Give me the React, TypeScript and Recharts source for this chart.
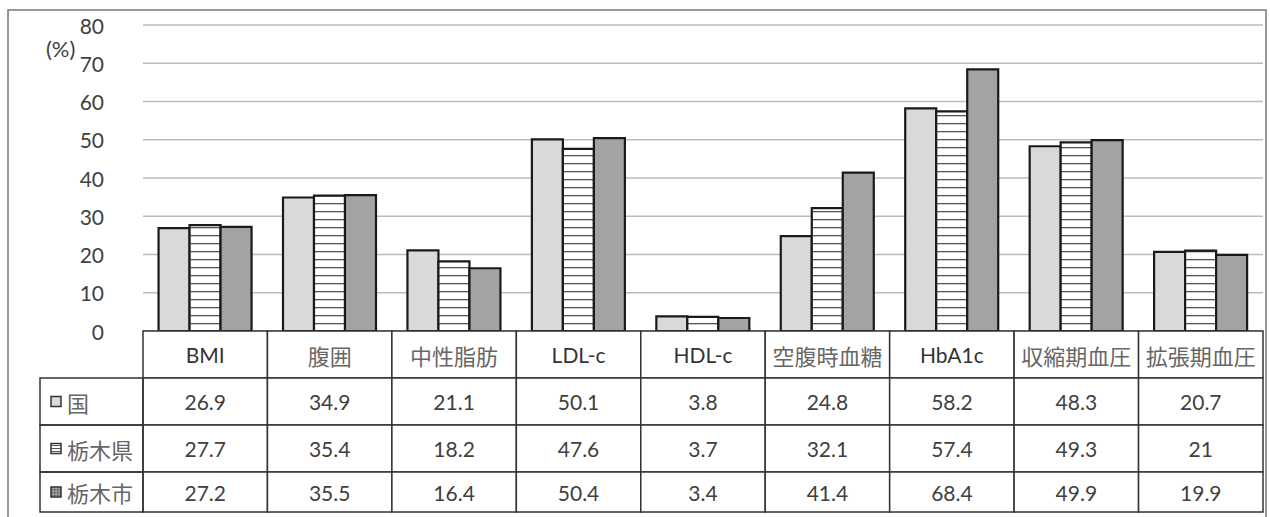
import { Bar, BarChart, CartesianGrid, XAxis, YAxis } from "recharts";

const categories = ["BMI", "腹囲", "中性脂肪", "LDL-c", "HDL-c", "空腹時血糖", "HbA1c", "収縮期血圧", "拡張期血圧"];
const seriesNames = ["国", "栃木県", "栃木市"];
const kuni = [26.9, 34.9, 21.1, 50.1, 3.8, 24.8, 58.2, 48.3, 20.7];
const tochigiKen = [27.7, 35.4, 18.2, 47.6, 3.7, 32.1, 57.4, 49.3, 21];
const tochigiShi = [27.2, 35.5, 16.4, 50.4, 3.4, 41.4, 68.4, 49.9, 19.9];
const yTicks = [0, 10, 20, 30, 40, 50, 60, 70, 80];

const data = categories.map((name, i) => ({
  name,
  kuni: kuni[i],
  ken: tochigiKen[i],
  shi: tochigiShi[i],
}));
const seriesValues = [kuni, tochigiKen, tochigiShi];

// layout
const W = 1270;
const H = 517;
const PLOT_LEFT = 143;
const PLOT_RIGHT = 1263;
const PLOT_TOP = 25;
const PLOT_BOTTOM = 331;
const COL_W = (PLOT_RIGHT - PLOT_LEFT) / categories.length;
const ROWS = [331, 378, 425, 472, 512];
const LEGEND_LEFT = 40;

const LATIN = "Lato, 'Noto Sans CJK JP', sans-serif";
const CJK = "'Noto Sans CJK JP', sans-serif";
const BORDER = "#333";
const isLatin = (s: string) => /^[\x00-\x7f]+$/.test(s);

function TableColumn(props: any) {
  const { x, index, payload } = props;
  const left = x - COL_W / 2;
  const label = String(payload.value);
  return (
    <g>
      {ROWS.slice(0, -1).map((top, r) => (
        <rect
          key={r}
          x={left}
          y={top}
          width={COL_W}
          height={ROWS[r + 1] - top}
          fill="#fff"
          stroke={BORDER}
          strokeWidth={1.5}
        />
      ))}
      <text
        x={x}
        y={(ROWS[0] + ROWS[1]) / 2}
        textAnchor="middle"
        dominantBaseline="central"
        fontFamily={isLatin(label) ? LATIN : CJK}
        fontSize={isLatin(label) ? 21 : 22}
        fill={isLatin(label) ? "#333" : "#666"}
      >
        {label}
      </text>
      {seriesValues.map((vals, r) => (
        <text
          key={r}
          x={x}
          y={(ROWS[r + 1] + ROWS[r + 2]) / 2}
          textAnchor="middle"
          dominantBaseline="central"
          fontFamily={LATIN}
          fontSize={21}
          fill="#404040"
        >
          {String(vals[index])}
        </text>
      ))}
    </g>
  );
}

function YTick(props: any) {
  const { y, payload } = props;
  return (
    <text
      x={104}
      y={y}
      textAnchor="end"
      dominantBaseline="central"
      fontFamily={LATIN}
      fontSize={21}
      fill="#404040"
    >
      {payload.value}
    </text>
  );
}

const fills = ["#d9d9d9", "url(#stripes)", "#a3a3a3"];
const iconFills = ["#d9d9d9", "url(#stripesSmall)", "url(#dots)"];

export default function App() {
  return (
    <div style={{ position: "absolute", left: 0, top: 0, width: W, height: H, background: "#fff" }}>
      <svg width={0} height={0} style={{ position: "absolute" }}>
        <defs>
          <pattern id="stripes" patternUnits="userSpaceOnUse" width={8} height={8}>
            <rect width={8} height={8} fill="#fff" />
            <rect y={3} width={8} height={1.3} fill="#555" />
          </pattern>
          <pattern id="stripesSmall" patternUnits="userSpaceOnUse" width={4} height={3}>
            <rect width={4} height={3} fill="#fff" />
            <rect y={1} width={4} height={1} fill="#555" />
          </pattern>
          <pattern id="dots" patternUnits="userSpaceOnUse" width={3} height={3}>
            <rect width={3} height={3} fill="#999" />
            <rect width={1.5} height={1.5} fill="#555" />
          </pattern>
        </defs>
      </svg>
      <BarChart
        width={W}
        height={H}
        data={data}
        margin={{ top: PLOT_TOP, right: W - PLOT_RIGHT, bottom: 0, left: 0 }}
        barGap={0}
        barCategoryGap="12.5%"
      >
        <CartesianGrid vertical={false} stroke="#bdbdbd" strokeWidth={1.5} />
        <XAxis
          dataKey="name"
          axisLine={false}
          tickLine={false}
          interval={0}
          height={H - PLOT_BOTTOM}
          tick={(p: any) => <TableColumn {...p} />}
        />
        <YAxis
          domain={[0, 80]}
          ticks={yTicks}
          width={PLOT_LEFT}
          axisLine={false}
          tickLine={false}
          tick={(p: any) => <YTick {...p} />}
        />
        <Bar dataKey="kuni" name={seriesNames[0]} fill={fills[0]} stroke="#1a1a1a" strokeWidth={2.2} isAnimationActive={false} />
        <Bar dataKey="ken" name={seriesNames[1]} fill={fills[1]} stroke="#1a1a1a" strokeWidth={2.2} isAnimationActive={false} />
        <Bar dataKey="shi" name={seriesNames[2]} fill={fills[2]} stroke="#1a1a1a" strokeWidth={2.2} isAnimationActive={false} />
      </BarChart>
      <svg
        width={W}
        height={H}
        style={{ position: "absolute", left: 0, top: 0, pointerEvents: "none" }}
      >
        <rect x={8} y={10} width={1258} height={H} fill="none" stroke="#777" strokeWidth={1.5} />
        <text x={46} y={48} dominantBaseline="central" fontFamily={LATIN} fontSize={22} fill="#404040">
          (%)
        </text>
        {seriesNames.map((name, r) => {
          const top = ROWS[r + 1];
          const h = ROWS[r + 2] - top;
          const cy = top + h / 2;
          return (
            <g key={name}>
              <rect x={LEGEND_LEFT} y={top} width={PLOT_LEFT - LEGEND_LEFT} height={h} fill="none" stroke={BORDER} strokeWidth={1.5} />
              <rect x={51} y={cy - 5} width={10} height={10} fill={iconFills[r]} stroke="#333" strokeWidth={1.5} />
              <text x={67} y={cy} dominantBaseline="central" fontFamily={CJK} fontSize={22} fill="#666">
                {name}
              </text>
            </g>
          );
        })}
      </svg>
    </div>
  );
}
